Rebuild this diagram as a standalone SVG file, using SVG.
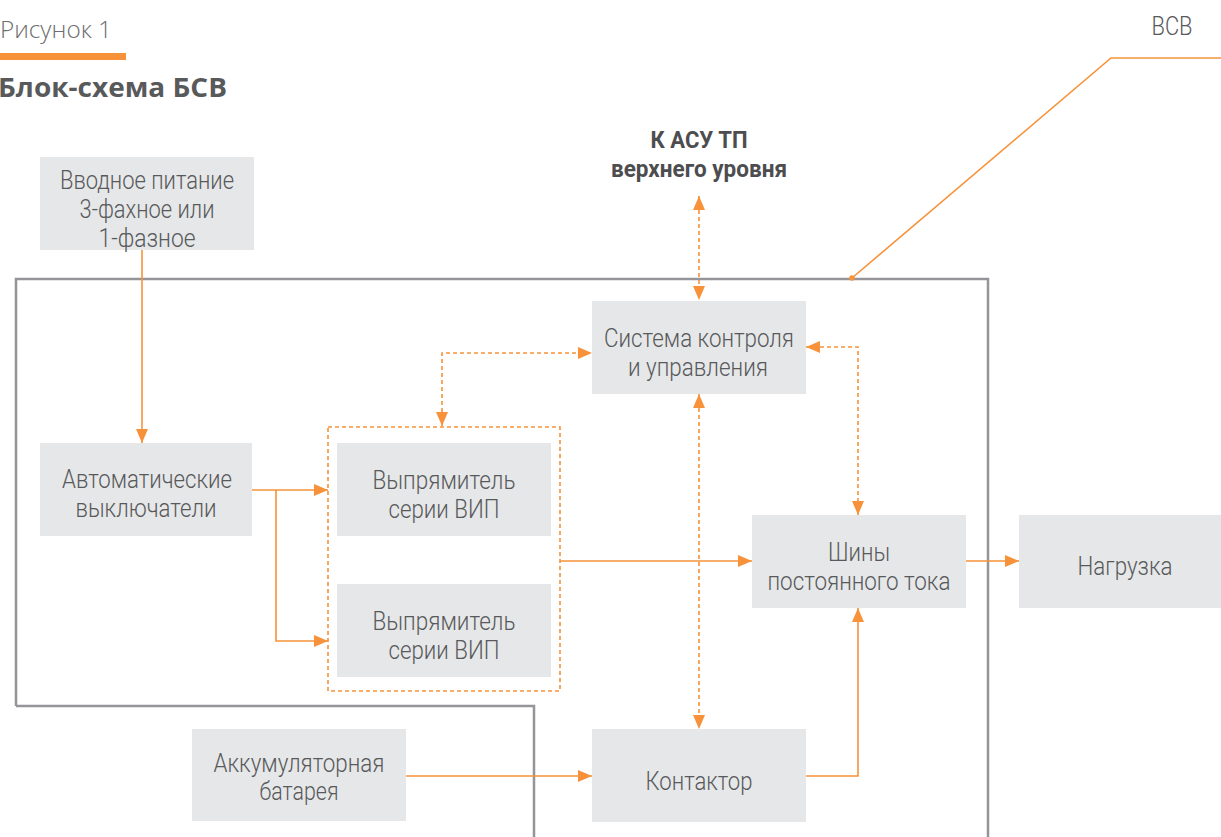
<svg xmlns="http://www.w3.org/2000/svg" width="1221" height="837" viewBox="0 0 1221 837">
<defs>
<style>
.box{fill:#e6e7e8}
.t{font-family:Roboto,"Liberation Sans",sans-serif;font-size:25.5px;fill:#58595b;text-anchor:middle;font-weight:300}
.tb{font-family:Roboto,"Liberation Sans",sans-serif;font-size:24px;fill:#4d4d4f;text-anchor:middle;font-weight:700}
.ln{fill:none;stroke:#f7923a;stroke-width:1.6}
.dl{fill:none;stroke:#f7923a;stroke-width:1.6;stroke-dasharray:4 3}
.frame{fill:none;stroke:#939598;stroke-width:2.5}
</style>
<marker id="ah" viewBox="0 0 14 12" refX="14" refY="6" markerWidth="14" markerHeight="12" markerUnits="userSpaceOnUse" orient="auto-start-reverse">
<path d="M0,0 L14,6 L0,12 Z" fill="#f7923a"/>
</marker>
</defs>
<rect width="1221" height="837" fill="#ffffff"/>
<g id="header">
<text x="0" y="38" font-family="'Open Sans','Liberation Sans',sans-serif" font-size="23" font-weight="300" fill="#6d6e70" textLength="112" lengthAdjust="spacingAndGlyphs">Рисунок 1</text>
<rect x="0" y="53" width="126" height="7" fill="#f7923a"/>
<text x="-2" y="97" font-family="'Open Sans','Liberation Sans',sans-serif" font-size="26" font-weight="700" fill="#58595b" textLength="229" lengthAdjust="spacingAndGlyphs">Блок-схема БСВ</text>
</g>
<g id="frame">
<path class="frame" d="M16,706 L16,279 L988,279 L988,837"/>
<path class="frame" d="M16,706 L534,706 L534,837"/>
</g>
<g id="label-vsv">
<text x="1172" y="35" class="t" font-size="27" textLength="41" lengthAdjust="spacingAndGlyphs">ВСВ</text>
<path class="ln" d="M1221,58 L1111,58 L852,278"/>
<circle cx="852" cy="278" r="2.8" fill="#f7923a"/>
</g>
<g id="label-asu">
<text x="699" y="148" class="tb" textLength="97" lengthAdjust="spacingAndGlyphs">К АСУ ТП</text>
<text x="699" y="177" class="tb" textLength="176" lengthAdjust="spacingAndGlyphs">верхнего уровня</text>
</g>
<g id="connectors">
<path class="ln" d="M142,250 L142,443" marker-end="url(#ah)"/>
<path class="ln" d="M252,490 L328,490" marker-end="url(#ah)"/>
<path class="ln" d="M276,490 L276,641 L328,641" marker-end="url(#ah)"/>
<path class="ln" d="M560,561 L752,561" marker-end="url(#ah)"/>
<path class="ln" d="M966,561 L1019,561" marker-end="url(#ah)"/>
<path class="ln" d="M406,776 L592,776" marker-end="url(#ah)"/>
<path class="ln" d="M806,776 L858,776 L858,608" marker-end="url(#ah)"/>
<path class="dl" d="M699,196 L699,300" marker-start="url(#ah)" marker-end="url(#ah)"/>
<path class="dl" d="M699,394 L699,729" marker-start="url(#ah)" marker-end="url(#ah)"/>
<path class="dl" d="M442,426 L442,353 L592,353" marker-start="url(#ah)" marker-end="url(#ah)"/>
<path class="dl" d="M806,347 L858,347 L858,515" marker-start="url(#ah)" marker-end="url(#ah)"/>
</g>
<g id="rectifier-group">
<rect x="328" y="427" width="232" height="264" fill="none" stroke="#f7923a" stroke-width="1.6" stroke-dasharray="4 3"/>
</g>
<g id="node-input">
<rect class="box" x="40" y="157" width="214" height="93"/>
<text class="t" x="147" y="189" textLength="174" lengthAdjust="spacingAndGlyphs">Вводное питание</text>
<text class="t" x="147" y="218" textLength="135" lengthAdjust="spacingAndGlyphs">3-фахное или</text>
<text class="t" x="147" y="247" textLength="97" lengthAdjust="spacingAndGlyphs">1-фазное</text>
</g>
<g id="node-breakers">
<rect class="box" x="40" y="443" width="212" height="93"/>
<text class="t" x="147" y="488" textLength="170" lengthAdjust="spacingAndGlyphs">Автоматические</text>
<text class="t" x="146" y="517" textLength="141" lengthAdjust="spacingAndGlyphs">выключатели</text>
</g>
<g id="node-rect1">
<rect class="box" x="337" y="443" width="214" height="93"/>
<text class="t" x="444" y="489" textLength="143" lengthAdjust="spacingAndGlyphs">Выпрямитель</text>
<text class="t" x="444" y="518" textLength="111" lengthAdjust="spacingAndGlyphs">серии ВИП</text>
</g>
<g id="node-rect2">
<rect class="box" x="337" y="584" width="214" height="93"/>
<text class="t" x="444" y="630" textLength="143" lengthAdjust="spacingAndGlyphs">Выпрямитель</text>
<text class="t" x="444" y="659" textLength="111" lengthAdjust="spacingAndGlyphs">серии ВИП</text>
</g>
<g id="node-control">
<rect class="box" x="592" y="301" width="214" height="93"/>
<text class="t" x="699" y="347" textLength="190" lengthAdjust="spacingAndGlyphs">Система контроля</text>
<text class="t" x="698" y="376" textLength="140" lengthAdjust="spacingAndGlyphs">и управления</text>
</g>
<g id="node-bus">
<rect class="box" x="752" y="515" width="214" height="93"/>
<text class="t" x="859" y="561" textLength="62" lengthAdjust="spacingAndGlyphs">Шины</text>
<text class="t" x="859" y="590" textLength="183" lengthAdjust="spacingAndGlyphs">постоянного тока</text>
</g>
<g id="node-load">
<rect class="box" x="1019" y="515" width="202" height="93"/>
<text class="t" x="1125" y="575" textLength="95" lengthAdjust="spacingAndGlyphs">Нагрузка</text>
</g>
<g id="node-battery">
<rect class="box" x="192" y="729" width="214" height="92"/>
<text class="t" x="299" y="772" textLength="171" lengthAdjust="spacingAndGlyphs">Аккумуляторная</text>
<text class="t" x="299" y="800" textLength="79" lengthAdjust="spacingAndGlyphs">батарея</text>
</g>
<g id="node-contactor">
<rect class="box" x="592" y="729" width="214" height="93"/>
<text class="t" x="699" y="790" textLength="107" lengthAdjust="spacingAndGlyphs">Контактор</text>
</g>
</svg>
